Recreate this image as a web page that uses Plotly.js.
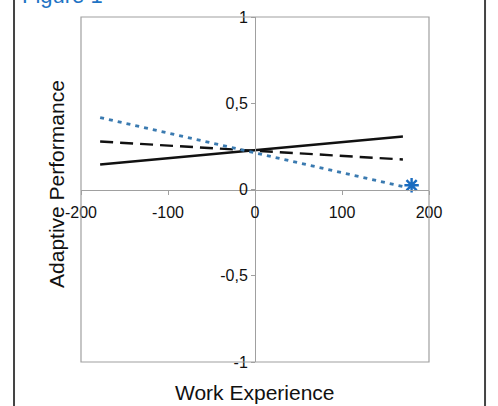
<!DOCTYPE html>
<html>
<head>
<meta charset="utf-8">
<script src="https://cdn.plot.ly/plotly-3.0.1.min.js"></script>
<style>html,body{margin:0;padding:0;background:#fff;}#chart{width:498px;height:406px;}</style>
</head>
<body>
<div id="chart"></div>
<script>
// Data
const experienceX = [-178, 170];
const solidY = [0.145, 0.307];
const dashedY = [0.278, 0.174];
const dottedY = [0.417, 0.017];
const starX = [180];
const starY = [0.025];

const xTickVals = [-200, -100, 0, 100, 200];
const xTickText = ['-200', '-100', '0', '100', '200'];
const yTickVals = [-1, -0.5, 0, 0.5, 1];
const yTickText = ['-1', '-0,5', '0', '0,5', '1'];

const traces = [
  {x: experienceX, y: solidY, mode: 'lines', line: {color: '#111', width: 2.4}, hoverinfo: 'skip'},
  {x: experienceX, y: dashedY, mode: 'lines', line: {color: '#111', width: 2.4, dash: '13px,7px'}, hoverinfo: 'skip'},
  {x: experienceX, y: dottedY, mode: 'lines', line: {color: '#3a7ab0', width: 2.8, dash: '4px,5px'}, hoverinfo: 'skip'},
  {x: starX, y: starY, mode: 'markers', marker: {symbol: 'asterisk-open', size: 12, color: '#1a6cc0', line: {color: '#1a6cc0', width: 2.4}}, hoverinfo: 'skip', cliponaxis: false}
];

const axisCommon = {
  showgrid: false, zeroline: false, showline: true, linecolor: '#a0a0a0', linewidth: 1,
  ticks: 'outside', ticklen: 4, tickcolor: '#a0a0a0', tickwidth: 1,
  tickfont: {family: 'Liberation Sans, Arial, sans-serif', size: 16, color: '#111'},
  anchor: 'free', position: 0.5, fixedrange: true
};

const layout = {
  width: 498, height: 406,
  margin: {l: 81, r: 69, t: 17, b: 44},
  paper_bgcolor: '#fff', plot_bgcolor: '#fff',
  showlegend: false,
  xaxis: Object.assign({}, axisCommon, {range: [-200, 200], tickvals: xTickVals, ticktext: xTickText, ticklabelstandoff: 4}),
  yaxis: Object.assign({}, axisCommon, {range: [-1, 1], tickvals: yTickVals, ticktext: yTickText, ticklabelstandoff: 0}),
  shapes: [
    {type: 'rect', xref: 'paper', yref: 'paper', x0: 0, x1: 1, y0: 0, y1: 1, line: {color: '#a0a0a0', width: 1.2}},
    {type: 'line', xref: 'paper', yref: 'paper', x0: -0.1925, x1: -0.1925, y0: -0.2, y1: 1.1, line: {color: '#444', width: 2}},
    {type: 'line', xref: 'paper', yref: 'paper', x0: 1.161, x1: 1.161, y0: -0.2, y1: 1.1, line: {color: '#444', width: 2}}
  ],
  annotations: [
    {text: 'Figure 1', xref: 'paper', yref: 'paper', x: -0.175, y: 1, xanchor: 'left', yanchor: 'bottom', yshift: 7, showarrow: false,
     font: {family: 'Liberation Sans, Arial, sans-serif', size: 22, color: '#1f74c4'}},
    {text: 'Adaptive Performance', xref: 'paper', yref: 'paper', x: -0.07, y: 0.515, xanchor: 'center', yanchor: 'middle', textangle: -90, showarrow: false,
     font: {family: 'Liberation Sans, Arial, sans-serif', size: 21, color: '#111'}},
    {text: 'Work Experience', xref: 'paper', yref: 'paper', x: 0.5, y: 0, yshift: -30, xanchor: 'center', yanchor: 'middle', showarrow: false,
     font: {family: 'Liberation Sans, Arial, sans-serif', size: 21, color: '#111'}}
  ]
};

Plotly.newPlot('chart', traces, layout, {staticPlot: true, displayModeBar: false});
</script>
</body>
</html>
